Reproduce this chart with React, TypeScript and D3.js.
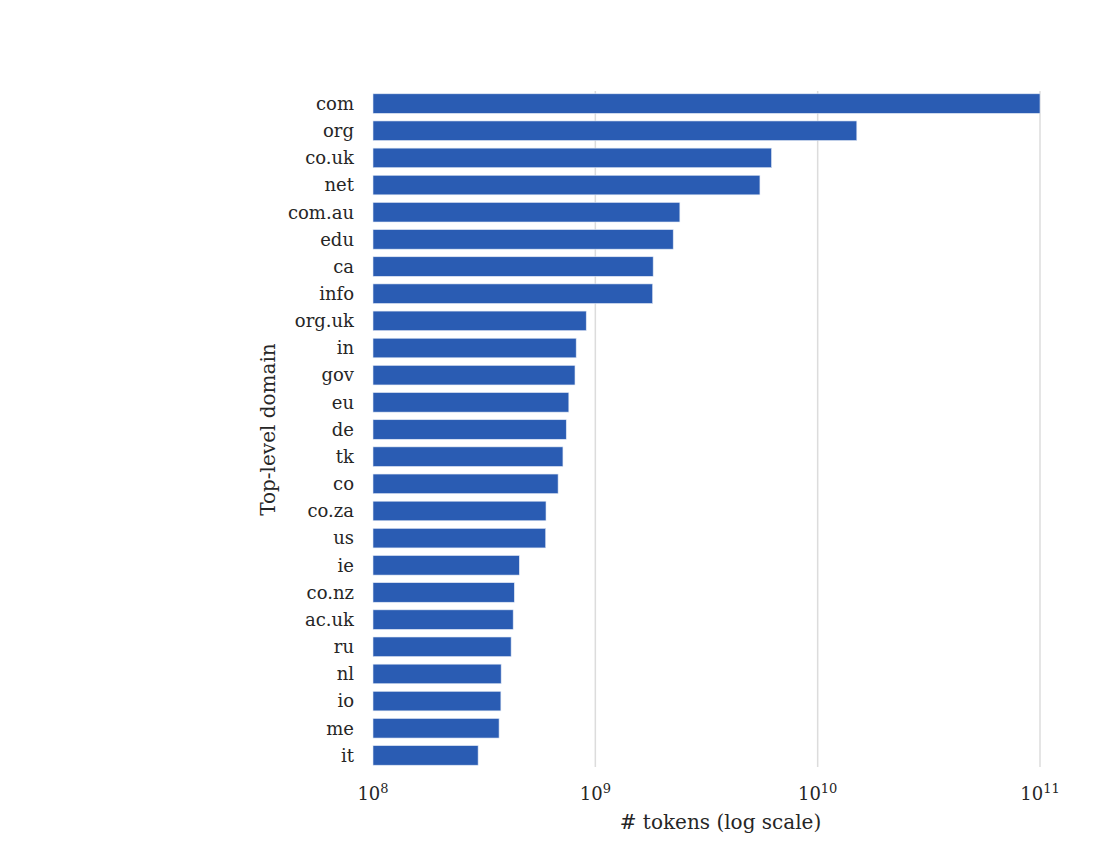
import React, { useEffect, useRef } from 'react'
import * as d3 from 'd3'

// top-level domains, ordered by token count
const domains = [
    'com', 'org', 'co.uk', 'net', 'com.au', 'edu', 'ca', 'info', 'org.uk', 'in',
    'gov', 'eu', 'de', 'tk', 'co', 'co.za', 'us', 'ie', 'co.nz', 'ac.uk',
    'ru', 'nl', 'io', 'me', 'it',
]
const tokens = [
    1.0e11, 1.5e10, 6.2e9, 5.5e9, 2.4e9, 2.24e9, 1.82e9, 1.81e9, 9.1e8, 8.2e8,
    8.1e8, 7.6e8, 7.4e8, 7.15e8, 6.8e8, 6.0e8, 5.98e8, 4.55e8, 4.32e8, 4.27e8,
    4.18e8, 3.77e8, 3.76e8, 3.69e8, 2.97e8,
]
const tickExponents = [8, 9, 10, 11]

const App = () => {
    const ref = useRef<SVGSVGElement>(null)

    const width = 1100,
        height = 850
    const margin = { top: 90, right: 60, bottom: 81, left: 373 }

    useEffect(() => {
        const svg = d3.select(ref.current)
        svg.selectAll('*').remove()

        const font = "'DejaVu Serif', serif"

        const x = d3.scaleLog()
            .domain([1e8, 1e11])
            .range([margin.left, 1040])

        const y = d3.scaleBand()
            .domain(domains)
            .range([margin.top, height - margin.bottom])
            .paddingInner(0.28)
            .paddingOuter(0.14)

        const data = domains.map((d, i) => ({ name: d, value: tokens[i] }))

        // vertical grid lines (the one on the left edge is hidden)
        svg.append('g')
            .selectAll('line')
            .data(tickExponents.slice(1))
            .join('line')
            .attr('x1', d => x(Math.pow(10, d)))
            .attr('x2', d => x(Math.pow(10, d)))
            .attr('y1', margin.top + 1)
            .attr('y2', height - margin.bottom - 2)
            .attr('stroke', '#dcdcdc')
            .attr('stroke-width', 1.5)

        // bars
        svg.append('g')
            .selectAll('rect')
            .data(data)
            .join('rect')
            .attr('x', x(1e8))
            .attr('y', d => y(d.name)!)
            .attr('width', d => x(d.value) - x(1e8))
            .attr('height', y.bandwidth())
            .attr('fill', '#2a5cb3')
            .attr('stroke', '#dfe7f4')
            .attr('stroke-width', 0.6)

        // category labels
        svg.append('g')
            .selectAll('text')
            .data(domains)
            .join('text')
            .attr('x', margin.left - 19)
            .attr('y', d => y(d)! + y.bandwidth() / 2)
            .attr('dy', '0.35em')
            .attr('text-anchor', 'end')
            .style('font-family', font)
            .style('font-size', '18px')
            .attr('fill', '#262626')
            .text(d => d)

        // x tick labels: 10 with superscript exponent
        const ticks = svg.append('g')
            .selectAll('text')
            .data(tickExponents)
            .join('text')
            .attr('x', d => x(Math.pow(10, d)))
            .attr('y', 800)
            .attr('text-anchor', 'middle')
            .style('font-family', font)
            .style('font-size', '18px')
            .attr('fill', '#262626')
        ticks.append('tspan').text('10')
        ticks.append('tspan')
            .attr('dy', -7)
            .style('font-size', '13px')
            .text(d => d)

        // axis titles
        svg.append('text')
            .attr('x', (margin.left + 1040) / 2 + 14)
            .attr('y', 829)
            .attr('text-anchor', 'middle')
            .style('font-family', font)
            .style('font-size', '20px')
            .attr('fill', '#262626')
            .text('# tokens (log scale)')

        svg.append('text')
            .attr('transform', `translate(275,${(margin.top + height - margin.bottom) / 2}) rotate(-90)`)
            .attr('text-anchor', 'middle')
            .style('font-family', font)
            .style('font-size', '20px')
            .attr('fill', '#262626')
            .text('Top-level domain')
    }, [])

    return (
        <svg ref={ref} width={width} height={height} style={{ display: 'block', margin: -8 }} />
    )
}

export default App
